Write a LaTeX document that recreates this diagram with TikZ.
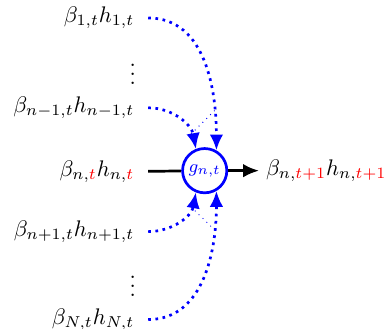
\documentclass[tikz,border=0pt]{standalone}
\usepackage{xcolor}
\usepackage{tikz}
\usetikzlibrary{arrows.meta, positioning}
\tikzset{
  gatenode/.style={circle, draw=blue, very thick, minimum size=0.69cm,
    inner sep=0pt, text=blue, font=\footnotesize},
  inlabel/.style={anchor=east, inner sep=6pt},
  outlabel/.style={anchor=west, inner sep=3pt},
  flowarrow/.style={-{Latex[length=7pt, width=6pt]}, very thick},
  gatearrow/.style={-{Latex[length=7pt, width=6pt]}, blue, very thick, dotted},
  skipline/.style={blue, thin, dotted},
}

\begin{document}
\begin{tikzpicture}
  \useasboundingbox (0,0) rectangle (6.0,-5.12);
  \node[gatenode] (gate) at (3.19,-2.66) {$g_{n,t}$};

  \node[inlabel] (in1)  at (2.31,-0.28) {$\beta_{1,t}h_{1,t}$};
  \node (dots1) at (2.07,-1.06) {$\vdots$};
  \node[inlabel] (inm)  at (2.31,-1.68) {$\beta_{n-1,t}h_{n-1,t}$};
  \node[inlabel] (inn)  at (2.31,-2.68) {$\beta_{n,\textcolor{red}{t}}h_{n,\textcolor{red}{t}}$};
  \node[inlabel] (inp)  at (2.31,-3.61) {$\beta_{n+1,t}h_{n+1,t}$};
  \node (dots2) at (2.07,-4.36) {$\vdots$};
  \node[inlabel] (inN)  at (2.31,-4.98) {$\beta_{N,t}h_{N,t}$};
  \node[outlabel, right=0.48cm of gate] (out)
    {$\beta_{n,\textcolor{red}{t+1}}h_{n,\textcolor{red}{t+1}}$};

  % main flow
  \draw[flowarrow, -] (inn) -- (gate);
  \draw[flowarrow] (gate) -- (out);

  % other inputs
  \draw[gatearrow] (in1) to[out=0, in=90] coordinate[pos=0.78] (a1) (gate.60);
  \draw[gatearrow] (inm) to[out=0, in=100] coordinate[pos=0.78] (am) (gate.112);
  \draw[gatearrow] (inp) to[out=0, in=-100] coordinate[pos=0.78] (ap) (gate.-112);
  \draw[gatearrow] (inN) to[out=0, in=-90] coordinate[pos=0.78] (aN) (gate.-60);
  \draw[skipline] (am) -- (a1);
  \draw[skipline] (ap) -- (aN);
\end{tikzpicture}
\end{document}
